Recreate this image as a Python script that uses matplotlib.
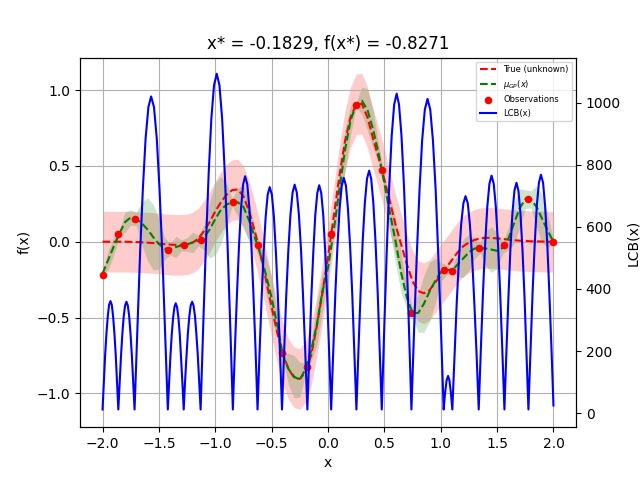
import matplotlib
matplotlib.use("Agg")
import matplotlib.pyplot as plt
import numpy as np

# ---- data ----
x_grid = [-2.00, -1.95, -1.90, -1.85, -1.80, -1.75, -1.70, -1.65, -1.60, -1.55,
          -1.50, -1.45, -1.40, -1.35, -1.30, -1.25, -1.20, -1.15, -1.10, -1.05,
          -1.00, -0.95, -0.90, -0.85, -0.80, -0.75, -0.70, -0.65, -0.60, -0.55,
          -0.50, -0.45, -0.40, -0.35, -0.30, -0.25, -0.20, -0.15, -0.10, -0.05,
          0.00, 0.05, 0.10, 0.15, 0.20, 0.25, 0.30, 0.35, 0.40, 0.45,
          0.50, 0.55, 0.60, 0.65, 0.70, 0.75, 0.80, 0.85, 0.90, 0.95,
          1.00, 1.05, 1.10, 1.15, 1.20, 1.25, 1.30, 1.35, 1.40, 1.45,
          1.50, 1.55, 1.60, 1.65, 1.70, 1.75, 1.80, 1.85, 1.90, 1.95, 2.00]

f_true = [0.000, 0.000, 0.000, 0.000, 0.000, -0.001, -0.002, -0.004, -0.006, -0.009,
          -0.012, -0.016, -0.019, -0.021, -0.021, -0.017, -0.005, 0.020, 0.070, 0.130,
          0.200, 0.260, 0.310, 0.340, 0.345, 0.300, 0.200, 0.070, -0.080, -0.250,
          -0.430, -0.600, -0.740, -0.840, -0.895, -0.905, -0.860, -0.750, -0.560, -0.340,
          -0.100, 0.160, 0.430, 0.660, 0.820, 0.905, 0.910, 0.820, 0.680, 0.550,
          0.410, 0.260, 0.110, -0.020, -0.150, -0.260, -0.325, -0.340, -0.320, -0.270,
          -0.220, -0.170, -0.120, -0.070, -0.030, -0.005, 0.012, 0.022, 0.026, 0.025,
          0.022, 0.018, 0.014, 0.010, 0.007, 0.005, 0.003, 0.002, 0.001, 0.000, 0.000]

mu_gp = [-0.210, -0.120, -0.030, 0.055, 0.130, 0.160, 0.150, 0.120, 0.080, 0.030,
         -0.015, -0.045, -0.050, -0.035, -0.025, -0.018, -0.005, 0.008, 0.030, 0.080,
         0.150, 0.210, 0.245, 0.260, 0.260, 0.230, 0.140, 0.030, -0.080, -0.220,
         -0.370, -0.550, -0.750, -0.840, -0.890, -0.910, -0.840, -0.720, -0.550, -0.330,
         -0.170, 0.070, 0.340, 0.600, 0.800, 0.905, 0.930, 0.870, 0.740, 0.580,
         0.385, 0.187, 0.000, -0.210, -0.370, -0.470, -0.470, -0.410, -0.330, -0.260,
         -0.200, -0.185, -0.190, -0.150, -0.110, -0.070, -0.045, -0.040, -0.045, -0.052,
         -0.060, -0.040, 0.020, 0.120, 0.220, 0.280, 0.280, 0.230, 0.150, 0.070, 0.000]

gp_band = [0.010, 0.064, 0.057, 0.023, 0.068, 0.050, 0.046, 0.145, 0.208, 0.216,
           0.166, 0.074, 0.037, 0.070, 0.036, 0.045, 0.069, 0.035, 0.084, 0.187,
           0.238, 0.222, 0.141, 0.025, 0.093, 0.146, 0.133, 0.060, 0.057, 0.125,
           0.136, 0.084, 0.024, 0.104, 0.140, 0.115, 0.041, 0.071, 0.133, 0.131,
           0.063, 0.049, 0.120, 0.139, 0.097, 0.014, 0.090, 0.137, 0.124, 0.058,
           0.048, 0.118, 0.150, 0.133, 0.074, 0.031, 0.126, 0.187, 0.196, 0.151,
           0.063, 0.035, 0.012, 0.081, 0.126, 0.120, 0.066, 0.035, 0.118, 0.150,
           0.119, 0.038, 0.074, 0.134, 0.128, 0.062, 0.056, 0.138, 0.158, 0.108, 0.010]

noise_band = 0.2

obs_x = [-2.000, -1.860, -1.716, -1.421, -1.280, -1.130, -0.844, -0.625, -0.408, -0.1829,
         0.028, 0.252, 0.477, 0.740, 1.026, 1.103, 1.337, 1.565, 1.778, 2.000]
obs_y = [-0.220, 0.048, 0.152, -0.053, -0.022, 0.013, 0.263, -0.024, -0.731, -0.8271,
         0.048, 0.904, 0.476, -0.468, -0.188, -0.194, -0.040, -0.024, 0.283, 0.000]

lcb_x = [-2.000,
         -1.988, -1.977, -1.965, -1.953, -1.942, -1.930, -1.918, -1.907, -1.895, -1.883, -1.872, -1.860,
         -1.848, -1.836, -1.824, -1.812, -1.800, -1.788, -1.776, -1.764, -1.752, -1.740, -1.728, -1.716,
         -1.691, -1.667, -1.642, -1.618, -1.593, -1.569, -1.544, -1.519, -1.495, -1.470, -1.446, -1.421,
         -1.409, -1.398, -1.386, -1.374, -1.362, -1.351, -1.339, -1.327, -1.315, -1.304, -1.292, -1.280,
         -1.268, -1.255, -1.243, -1.230, -1.218, -1.205, -1.193, -1.180, -1.168, -1.155, -1.143, -1.130,
         -1.106, -1.082, -1.058, -1.035, -1.011, -0.987, -0.963, -0.939, -0.916, -0.892, -0.868, -0.844,
         -0.826, -0.807, -0.789, -0.771, -0.753, -0.735, -0.716, -0.698, -0.680, -0.662, -0.643, -0.625,
         -0.607, -0.589, -0.571, -0.553, -0.535, -0.517, -0.498, -0.480, -0.462, -0.444, -0.426, -0.408,
         -0.389, -0.371, -0.352, -0.333, -0.314, -0.296, -0.277, -0.258, -0.239, -0.221, -0.202, -0.183,
         -0.165, -0.148, -0.130, -0.113, -0.095, -0.078, -0.060, -0.042, -0.025, -0.007, 0.010, 0.028,
         0.047, 0.065, 0.084, 0.103, 0.121, 0.140, 0.159, 0.177, 0.196, 0.215, 0.233, 0.252,
         0.271, 0.290, 0.308, 0.327, 0.346, 0.365, 0.383, 0.402, 0.421, 0.440, 0.458, 0.477,
         0.499, 0.521, 0.543, 0.565, 0.587, 0.609, 0.630, 0.652, 0.674, 0.696, 0.718, 0.740,
         0.764, 0.788, 0.812, 0.835, 0.859, 0.883, 0.907, 0.931, 0.955, 0.978, 1.002, 1.026,
         1.039, 1.052, 1.065, 1.077, 1.090, 1.103,
         1.123, 1.142, 1.162, 1.181, 1.201, 1.220, 1.240, 1.259, 1.279, 1.298, 1.318, 1.337,
         1.356, 1.375, 1.394, 1.413, 1.432, 1.451, 1.470, 1.489, 1.508, 1.527, 1.546, 1.565,
         1.583, 1.601, 1.618, 1.636, 1.654, 1.672, 1.689, 1.707, 1.725, 1.743, 1.760, 1.778,
         1.797, 1.815, 1.834, 1.852, 1.871, 1.889, 1.908, 1.926, 1.945, 1.963, 1.982, 2.000]

lcb_y = [12,
         102, 187, 259, 314, 349, 361, 349, 314, 259, 187, 102, 12,
         102, 186, 257, 313, 347, 359, 347, 313, 257, 186, 102, 12,
         273, 516, 725, 885, 986, 1020, 986, 885, 725, 516, 273, 12,
         101, 183, 254, 308, 342, 354, 342, 308, 254, 183, 101, 12,
         102, 186, 257, 313, 347, 359, 347, 313, 257, 186, 102, 12,
         292, 553, 776, 948, 1056, 1093, 1056, 948, 776, 553, 292, 12,
         207, 388, 543, 662, 737, 763, 737, 662, 543, 388, 207, 12,
         197, 370, 518, 632, 704, 728, 704, 632, 518, 370, 197, 12,
         200, 374, 524, 639, 711, 736, 711, 639, 524, 374, 200, 12,
         199, 373, 522, 637, 709, 734, 709, 637, 522, 373, 199, 12,
         205, 385, 539, 658, 733, 758, 733, 658, 539, 385, 205, 12,
         211, 397, 556, 678, 755, 781, 755, 678, 556, 397, 211, 12,
         275, 521, 731, 893, 994, 1029, 994, 893, 731, 521, 275, 12,
         271, 512, 719, 878, 978, 1012, 978, 878, 719, 512, 271, 12,
         66, 106, 120, 106, 66, 12,
         190, 356, 498, 607, 676, 699, 676, 607, 498, 356, 190, 12,
         207, 389, 544, 664, 739, 765, 739, 664, 544, 389, 207, 12,
         201, 377, 528, 644, 717, 742, 717, 644, 528, 377, 201, 12,
         208, 390, 546, 667, 742, 768, 742, 667, 547, 392, 212, 25]

title_text = "x* = -0.1829, f(x*) = -0.8271"

# ---- plotting ----
xg = np.array(x_grid)
ft = np.array(f_true)
mu = np.array(mu_gp)
bd = np.array(gp_band)

fig, ax1 = plt.subplots(figsize=(6.4, 4.8), dpi=100)

ax1.fill_between(xg, ft - noise_band, ft + noise_band, color="red", alpha=0.2, linewidth=0)
ax1.fill_between(xg, mu - bd, mu + bd, color="green", alpha=0.2, linewidth=0)
l_true, = ax1.plot(xg, ft, "r--", lw=1.5, label="True (unknown)")
l_mu, = ax1.plot(xg, mu, "g--", lw=1.5, label=r"$\mu_{GP}(x)$")
sc = ax1.scatter(obs_x, obs_y, color="red", s=20, zorder=5, label="Observations")
ax1.set_xlabel("x")
ax1.set_ylabel("f(x)")
ax1.grid(True)
ax1.set_xlim(-2.2, 2.2)
ax1.set_ylim(-1.223, 1.214)
ax1.set_title(title_text)

ax2 = ax1.twinx()
l_lcb, = ax2.plot(lcb_x, lcb_y, color="blue", lw=1.5, label="LCB(x)")
ax2.set_ylabel("LCB(x)")
ax2.set_ylim(-45, 1145)

ax2.legend(handles=[l_true, l_mu, sc, l_lcb], loc="upper right", fontsize=6)

fig.savefig("out.png", dpi=100)
